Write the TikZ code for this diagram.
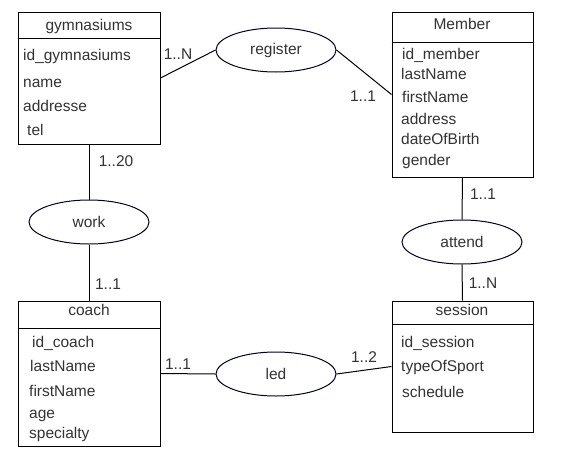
\documentclass[tikz,border=0pt]{standalone}
\usepackage{fontspec}
\setmainfont{Liberation Sans}
\usetikzlibrary{shapes.geometric}

\begin{document}
\begin{tikzpicture}[
    x=1pt, y=-1pt,
    every node/.style={font=\fontsize{15.5}{18}\selectfont, text=black!80},
    entity/.style={rectangle, draw=black, line width=1pt, minimum width=142pt, inner sep=0pt},
    relation/.style={ellipse, draw=black!85!blue, line width=1pt, minimum width=120pt, minimum height=44pt, inner sep=0pt},
    head/.style={inner sep=0pt, text height=11pt, text depth=3pt},
    attr/.style={anchor=west, inner sep=0pt, text height=11pt, text depth=3pt},
    card/.style={inner sep=0pt, text height=11pt, text depth=0pt},
    link/.style={line width=1pt, draw=black}
]
    \useasboundingbox[fill=white] (0,0) rectangle (575,463);

% -------------------------
% Entities
% -------------------------
    \node[entity, minimum height=132pt] (n1_1) at (89, 78) {};
    \node[entity, minimum width=141pt, minimum height=165pt] (n3_1) at (462.5, 94.5) {};
    \node[entity, minimum height=145pt] (n1_3) at (89, 373.5) {};
    \node[entity, minimum width=141pt, minimum height=131pt] (n3_3) at (462.5, 366.5) {};

    % header separators
    \draw[link] ([yshift=-27pt]n1_1.north west) -- ([yshift=-27pt]n1_1.north east);
    \draw[link] ([yshift=-31pt]n3_1.north west) -- ([yshift=-31pt]n3_1.north east);
    \draw[link] ([yshift=-28pt]n1_3.north west) -- ([yshift=-28pt]n1_3.north east);
    \draw[link] ([yshift=-24pt]n3_3.north west) -- ([yshift=-24pt]n3_3.north east);

% -------------------------
% Headers & Attributes - gymnasiums
% -------------------------
    \node[head] (h1_1) at (89, 26) {gymnasiums};
    \node[attr] (a1_1) at (23, 56) {id\_gymnasiums};
    \node[attr] (a1_2) at (23, 83) {name};
    \node[attr] (a1_3) at (23, 107) {addresse};
    \node[attr] (a1_4) at (27, 131) {tel};

% -------------------------
% Headers & Attributes - Member
% -------------------------
    \node[head] (h3_1) at (462, 25) {Member};
    \node[attr] (a3_1) at (402, 55) {id\_member};
    \node[attr] (a3_2) at (401, 75) {lastName};
    \node[attr] (a3_3) at (402, 98) {firstName};
    \node[attr] (a3_4) at (401, 120) {address};
    \node[attr] (a3_5) at (401, 140) {dateOfBirth};
    \node[attr] (a3_6) at (402, 161) {gender};

% -------------------------
% Headers & Attributes - coach
% -------------------------
    \node[head] (h1_3) at (89, 311) {coach};
    \node[attr] (c1_1) at (32, 343) {id\_coach};
    \node[attr] (c1_2) at (30, 367) {lastName};
    \node[attr] (c1_3) at (29, 392) {firstName};
    \node[attr] (c1_4) at (29, 414) {age};
    \node[attr] (c1_5) at (29, 434) {specialty};

% -------------------------
% Headers & Attributes - session
% -------------------------
    \node[head] (h3_3) at (462, 311) {session};
    \node[attr] (s3_1) at (401, 343) {id\_session};
    \node[attr] (s3_2) at (401, 367) {typeOfSport};
    \node[attr] (s3_3) at (402, 393) {schedule};

% -------------------------
% Relations
% -------------------------
    \node[relation] (n2_1) at (276, 50) {register};
    \node[relation] (n1_2) at (89, 222) {work};
    \node[relation] (n3_2) at (462, 242) {attend};
    \node[relation] (n2_2) at (276, 374) {led};

% -------------------------
% Links & Cardinalities
% -------------------------
    \draw[link] (n1_1.east) -- (n2_1.west);
    \draw[link] (n2_1.east) -- (n3_1.west);
    \draw[link] (n1_1.south) -- (n1_2.north);
    \draw[link] (n1_2.south) -- (n1_3.north);
    \draw[link] (n3_1.south) -- (n3_2.north);
    \draw[link] (n3_2.south) -- (n3_3.north);
    \draw[link] (n1_3.east) -- (n2_2.west);
    \draw[link] (n2_2.east) -- (n3_3.west);

    \node[card] (k1) at (178, 54) {1..N};
    \node[card] (k2) at (363, 96) {1..1};
    \node[card] (k3) at (116, 161) {1..20};
    \node[card] (k4) at (108, 284) {1..1};
    \node[card] (k5) at (483, 194) {1..1};
    \node[card] (k6) at (483, 283) {1..N};
    \node[card] (k7) at (178, 364) {1..1};
    \node[card] (k8) at (364, 357) {1..2};
\end{tikzpicture}
\end{document}
